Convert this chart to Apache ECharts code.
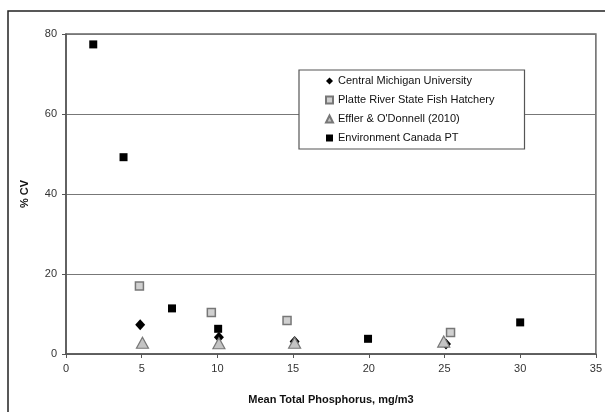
<!DOCTYPE html>
<html>
<head>
<meta charset="utf-8">
<script src="https://cdn.jsdelivr.net/npm/echarts@6/dist/echarts.min.js"></script>
<style>
  html, body { margin: 0; padding: 0; background: #fff; }
  #chart { width: 605px; height: 412px; }
</style>
</head>
<body>
<div id="chart"></div>
<script>
// data: [mean TP mg/m3, % CV]
var centralMichigan = [[4.9, 7.3], [10.1, 4.2], [15.1, 3.1], [25.1, 2.5]];
var platteRiver = [[4.85, 17.0], [9.6, 10.4], [14.6, 8.4], [25.4, 5.4]];
var efflerODonnell = [[5.05, 2.8], [10.1, 2.7], [15.1, 2.8], [24.95, 3.1]];
var envCanada = [[1.8, 77.4], [3.8, 49.2], [7.0, 11.4], [10.05, 6.3], [19.95, 3.8], [30, 7.9]];

var seriesNames = ['Central Michigan University', 'Platte River State Fish Hatchery', 'Effler & O\'Donnell (2010)', 'Environment Canada PT'];

var chart = echarts.init(document.getElementById('chart'));

var font = 'Liberation Sans, Arial, sans-serif';

chart.setOption({
  animation: false,
  backgroundColor: '#fff',
  textStyle: { fontFamily: font },
  // outer frame of the chart (only top and left edges show)
  graphic: [{
    type: 'rect',
    shape: { x: 8, y: 11, width: 800, height: 600 },
    style: { fill: 'none', stroke: '#222', lineWidth: 1.5 },
    silent: true,
    z: 100
  }],
  grid: {
    left: 66, top: 34, right: 5, bottom: 58,
    show: true,
    borderColor: '#666',
    borderWidth: 1.5,
    backgroundColor: '#fff'
  },
  legend: {
    orient: 'vertical',
    left: 299,
    top: 70,
    padding: [4, 30, 4, 26],
    itemGap: 5,
    itemWidth: 7,
    itemHeight: 7,
    backgroundColor: '#fff',
    borderColor: '#555',
    borderWidth: 1.2,
    data: seriesNames,
    textStyle: { fontFamily: font, fontSize: 11, color: '#111', lineHeight: 14 },
    z: 10
  },
  xAxis: {
    type: 'value',
    min: 0, max: 35, interval: 5,
    name: 'Mean Total Phosphorus, mg/m3',
    nameLocation: 'middle',
    nameGap: 40,
    nameTextStyle: { fontFamily: font, fontSize: 11, fontWeight: 'bold', color: '#111' },
    axisLine: { show: true, lineStyle: { color: '#555', width: 1.5 } },
    axisTick: { show: true, length: 4, lineStyle: { color: '#555' } },
    axisLabel: { margin: 9, fontSize: 11, color: '#333' },
    splitLine: { show: false }
  },
  yAxis: {
    type: 'value',
    min: 0, max: 80, interval: 20,
    name: '% CV',
    nameLocation: 'middle',
    nameRotate: 90,
    nameGap: 36,
    nameTextStyle: { fontFamily: font, fontSize: 11, fontWeight: 'bold', color: '#111' },
    axisLine: { show: true, lineStyle: { color: '#555', width: 1.5 } },
    axisTick: { show: true, length: 4, lineStyle: { color: '#555' } },
    axisLabel: { margin: 9, fontSize: 11, color: '#333' },
    splitLine: { show: true, lineStyle: { color: '#777', width: 1.2 } }
  },
  series: [
    {
      name: seriesNames[0],
      type: 'scatter',
      symbol: 'diamond',
      symbolSize: [10, 11],
      itemStyle: { color: '#000', opacity: 1 },
      data: centralMichigan
    },
    {
      name: seriesNames[1],
      type: 'scatter',
      symbol: 'rect',
      symbolSize: 8,
      itemStyle: { color: '#d0d0d0', borderColor: '#777', borderWidth: 1.5, opacity: 1 },
      data: platteRiver
    },
    {
      name: seriesNames[2],
      type: 'scatter',
      symbol: 'triangle',
      symbolSize: [12, 11],
      itemStyle: { color: '#c4c4c4', borderColor: '#777', borderWidth: 1.2, opacity: 1 },
      data: efflerODonnell
    },
    {
      name: seriesNames[3],
      type: 'scatter',
      symbol: 'rect',
      symbolSize: 8,
      itemStyle: { color: '#000', opacity: 1 },
      data: envCanada
    }
  ]
});
</script>
</body>
</html>
